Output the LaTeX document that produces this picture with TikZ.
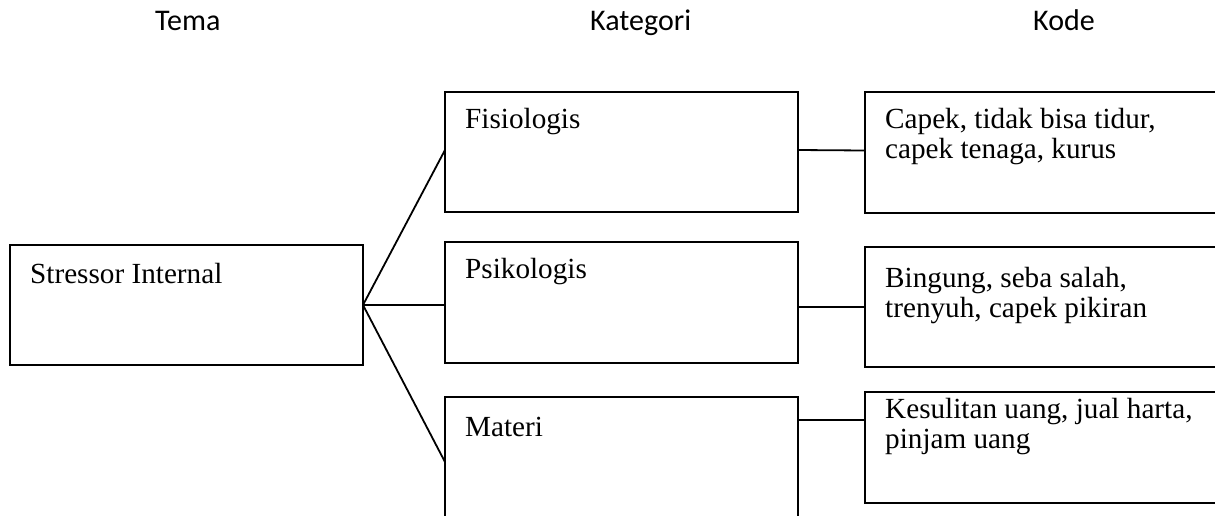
\documentclass[tikz,border=0pt]{standalone}
\usepackage{fontspec}
\setmainfont{Liberation Serif}
\newfontfamily\headfont{Carlito}
\usetikzlibrary{calc}
\newcommand{\twolines}[2]{\begin{tabular}[t]{@{}l@{}}#1\\#2\end{tabular}}
\begin{document}
\begin{tikzpicture}[x=1pt,y=-1pt,
  box/.style={draw=black, line width=1.8pt, inner sep=0pt, outer sep=0pt, anchor=north west},
  txt/.style={inner sep=0pt, anchor=base west, font=\fontsize{29.2}{30}\selectfont},
  head/.style={inner sep=0pt, anchor=base west, font=\headfont\fontsize{30}{36}\selectfont},
  con/.style={draw=black, line width=1.8pt}]
\useasboundingbox (0,0) rectangle (1215,515);
\clip (0,0) rectangle (1215,515);
% headers
\node[head] (htema) at (155,30) {Tema};
\node[head] (hkat) at (590,30) {Kategori};
\node[head] (hkode) at (1033,30) {Kode};
% boxes
\node[box, minimum width=353pt, minimum height=120pt] (si) at (10,245) {};
\node[box, minimum width=353pt, minimum height=120pt] (fis) at (445,92) {};
\node[box, minimum width=353pt, minimum height=121pt] (psi) at (445,242) {};
\node[box, minimum width=353pt, minimum height=130pt] (mat) at (445,397) {};
\node[box, minimum width=370pt, minimum height=121pt] (k1) at (865,92) {};
\node[box, minimum width=370pt, minimum height=120pt] (k2) at (865,247) {};
\node[box, minimum width=370pt, minimum height=111pt] (k3) at (865,392) {};
% texts
\node[txt] (tsi) at (30,283) {Stressor Internal};
\node[txt] (tfis) at (465,128) {Fisiologis};
\node[txt] (tpsi) at (465,278) {Psikologis};
\node[txt] (tmat) at (465,436) {Materi};
\node[txt] (tk1) at (885,128) {\twolines{Capek, tidak bisa tidur,}{capek tenaga, kurus}};
\node[txt] (tk2) at (885,287) {\twolines{Bingung, seba salah,}{trenyuh, capek pikiran}};
\node[txt] (tk3) at (885,418) {\twolines{Kesulitan uang, jual harta,}{pinjam uang}};
% connectors
\coordinate (c3) at ($(k3.north west)!0.25!(k3.south west)$);
\draw[con] (si.east) -- ([yshift=2pt]fis.west);
\draw[con] (si.east) -- (psi.west |- si.east);
\draw[con] (si.east) -- (mat.west);
\draw[con] ([yshift=2pt]fis.east) -- ([yshift=2pt]k1.west);
\draw[con] (psi.east |- k2.west) -- (k2.west);
\draw[con] (mat.east |- c3) -- (c3);
\end{tikzpicture}
\end{document}
